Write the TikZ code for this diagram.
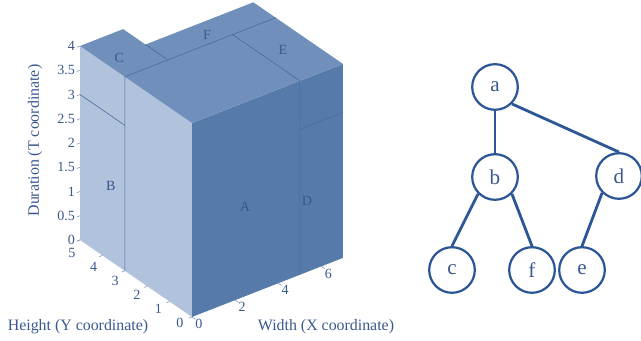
\documentclass[tikz,border=0pt]{standalone}
\usepackage{fontspec}
\setmainfont{Liberation Serif}
\usetikzlibrary{positioning}
\definecolor{faceside}{RGB}{176,194,220}
\definecolor{facefront}{RGB}{86,123,170}
\definecolor{facetop}{RGB}{112,144,187}
\definecolor{edgeblue}{RGB}{72,106,156}
\definecolor{textblue}{RGB}{58,88,142}
\definecolor{treeblue}{RGB}{44,86,150}
\begin{document}
\begin{tikzpicture}[every node/.style={text=textblue},
  vertex/.style={draw=treeblue,line width=1.6pt,circle,minimum size=1.14cm,inner sep=0pt,font=\fontsize{15}{15}\selectfont},
  branch/.style={draw=treeblue,line width=2pt},
  blockline/.style={draw=edgeblue,line width=0.4pt},
  tickmark/.style={draw=edgeblue!70,line width=0.4pt},
  ticklab/.style={font=\fontsize{10}{12}\selectfont,inner sep=0.3pt},
  axtitle/.style={font=\fontsize{11.3}{13}\selectfont},
  blocklab/.style={font=\fontsize{10}{12}\selectfont}]
\useasboundingbox (0,0) rectangle (16.025,8.525);
% block layout
\begin{scope}[shift={(4.8,0.6)},x={(0.539cm,0.211cm)},y={(-0.56cm,0.385cm)},z={(0cm,1.2125cm)}]
\fill[faceside] (0,0,0) -- (0,5,0) -- (0,5,4) -- (0,0,4) -- cycle;
\fill[facefront] (0,0,0) -- (7,0,0) -- (7,0,4) -- (0,0,4) -- cycle;
\fill[facetop] (0,0,4) -- (0,5,4) -- (2,5,4) -- (2,4,4) -- (7,4,4) -- (7,0,4) -- cycle;
\draw[blockline] (0,3,0) -- (0,3,4) (0,3,3) -- (0,5,3);
\draw[blockline] (5,0,0) -- (5,0,4) (5,0,3) -- (7,0,3);
\draw[blockline] (0,3,4) -- (7,3,4) (2,3,4) -- (2,4,4) (5,0,4) -- (5,3,4);
\node[blocklab] (lA) at (2.46,0,1.84) {A};
\node[blocklab] (lB) at (0,3.62,1.55) {B};
\node[blocklab] (lC) at (0.65,3.87,4) {C};
\node[blocklab] (lD) at (5.33,0,1.47) {D};
\node[blocklab] (lE) at (5.83,1.55,4) {E};
\node[blocklab] (lF) at (4.23,3.4,4) {F};
% axes
\foreach \t in {0,0.5,1,1.5,2,2.5,3,3.5,4}
  \draw[tickmark] (0,5,\t) -- ++(-0.15,0,0) node[ticklab,anchor=east,xshift=-0.03cm,yshift=0.03cm] {\t};
\foreach \y in {0,...,5}{
  \pgfmathsetmacro\labx{-0.22+0.02*\y}
  \pgfmathsetmacro\laby{-0.1175-0.035*\y}
  \draw[tickmark] (0,\y,0) -- ++(-0.15,0,0) node[ticklab,xshift=\labx cm,yshift=\laby cm] {\y};
}
\foreach \x in {0,2,4,6}
  \draw[tickmark] (\x,0,0) -- ++(0,-0.15,0) node[ticklab,xshift=0.09cm,yshift=-0.12cm] {\x};
\end{scope}
\node[axtitle,rotate=90] (ttitle) at (0.875,5.01) {Duration (T coordinate)};
\node[axtitle] (ytitle) at (1.95,0.35) {Height (Y coordinate)};
\node[axtitle] (xtitle) at (8.15,0.35) {Width (X coordinate)};
% tree
\node[vertex] (a) at (12.375,6.35) {a};
\node[vertex] (b) at (12.375,4.1) {b};
\node[vertex] (d) at (15.475,4.125) {d};
\node[vertex] (c) at (11.3,1.775) {c};
\node[vertex] (f) at (13.3,1.775) {f};
\node[vertex] (e) at (14.55,1.775) {e};
\draw[branch] (a.south) -- (b.north);
\draw[branch] (a.south east) -- (d.north);
\draw[branch] (b.south west) -- (c.north);
\draw[branch] (b.south east) -- (f.north);
\draw[branch] (d.south west) -- (e.north);
\end{tikzpicture}
\end{document}
